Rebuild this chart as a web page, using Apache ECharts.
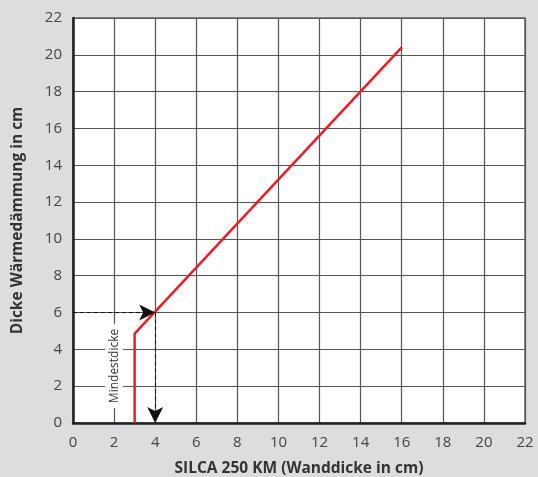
<!DOCTYPE html>
<html><head><meta charset="utf-8">
<script src="https://cdn.jsdelivr.net/npm/echarts@6/dist/echarts.min.js"></script>
<style>html,body{margin:0;padding:0;background:#dcdddf}#c{width:538px;height:477px}</style>
</head><body><div id="c"></div>
<script>
const xTicks = [0,2,4,6,8,10,12,14,16,18,20,22];
const yTicks = [0,2,4,6,8,10,12,14,16,18,20,22];
const curveX = [3, 3, 16];
const curveY = [0, 4.85, 20.4];
const guideX = 4, guideY = 6;
const guideStartX = -0.35;
const xName = 'SILCA 250 KM (Wanddicke in cm)';
const yName = 'Dicke Wärmedämmung in cm';
const noteText = 'Mindestdicke';
const notePos = [2.0, 3.1];

const font = '"Open Sans", "Noto Sans", sans-serif';
const dashStyle = {color: '#111', type: [4, 3], width: 1};
const chart = echarts.init(document.getElementById('c'));
chart.setOption({
  backgroundColor: '#dcdddf',
  animation: false,
  grid: {left: 73, right: 13, top: 18, bottom: 54, outerBoundsMode: 'none', containLabel: false,
    show: true, backgroundColor: '#fff', borderColor: '#666', borderWidth: 1.5},
  xAxis: {
    type: 'value', min: 0, max: 22, interval: 2,
    name: xName, nameLocation: 'middle', nameGap: 38,
    nameTextStyle: {fontFamily: font, fontWeight: 'bold', fontSize: 15.5, color: '#333'},
    axisLine: {lineStyle: {color: '#222', width: 2.5}},
    axisTick: {show: false},
    axisLabel: {fontFamily: font, fontSize: 15, color: '#444', margin: 12},
    splitLine: {lineStyle: {color: '#555', width: 1.2}}
  },
  yAxis: {
    type: 'value', min: 0, max: 22, interval: 2,
    name: yName, nameLocation: 'middle', nameGap: 47,
    nameTextStyle: {fontFamily: font, fontWeight: 'bold', fontSize: 15.5, color: '#333'},
    axisLine: {show: true, lineStyle: {color: '#222', width: 2.5}},
    axisTick: {show: false},
    axisLabel: {fontFamily: font, fontSize: 15, color: '#444', margin: 11},
    splitLine: {lineStyle: {color: '#555', width: 1.2}}
  },
  series: [{
    type: 'line',
    data: [[guideStartX, guideY], [guideX, guideY]],
    symbol: 'none', clip: false, silent: true,
    lineStyle: dashStyle
  }, {
    type: 'line',
    data: curveX.map((x, i) => [x, curveY[i]]),
    symbol: 'none',
    clip: false,
    lineStyle: {color: '#ee1c25', width: 2.5},
    markLine: {
      silent: true,
      symbol: ['none', 'arrow'],
      symbolSize: [12, 16],
      label: {show: false},
      lineStyle: dashStyle,
      data: [
        [{coord: [0, guideY]}, {coord: [guideX, guideY]}],
        [{coord: [guideX, guideY]}, {coord: [guideX, 0]}]
      ]
    },
    markPoint: {
      silent: true,
      symbol: 'rect', symbolSize: 1,
      itemStyle: {color: 'rgba(0,0,0,0)'},
      data: [{coord: notePos}],
      label: {
        show: true, position: 'inside', rotate: 90,
        formatter: noteText, fontFamily: font, fontSize: 12, color: '#333',
        backgroundColor: '#fff', padding: [3, 5]
      }
    }
  }]
});
</script></body></html>
